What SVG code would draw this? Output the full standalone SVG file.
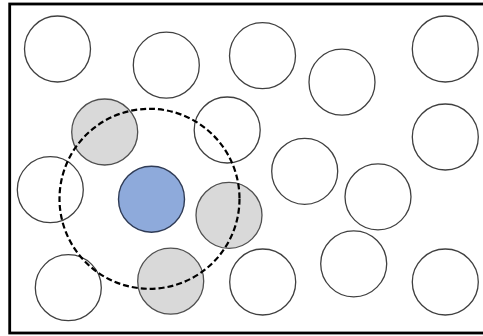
<svg xmlns="http://www.w3.org/2000/svg" width="483" height="336" viewBox="0 0 483 336">
<style>
.c{fill:#fff;stroke:#404040;stroke-width:1.3}
.g{fill:#d9d9d9;stroke:#505050;stroke-width:1.3}
.b{fill:#8eaadb;stroke:#2f3b55;stroke-width:1.4}
.d{fill:none;stroke:#000;stroke-width:2.2;stroke-dasharray:6 3}
</style>
<rect x="0" y="0" width="483" height="336" fill="#fff"/>
<rect x="9.7" y="4" width="480" height="329" fill="#fff" stroke="#000" stroke-width="2.8"/>
<g id="n1"><circle class="c" cx="57.5" cy="49" r="33"/></g>
<g id="n2"><circle class="c" cx="166.3" cy="65.2" r="33"/></g>
<g id="n3"><circle class="c" cx="262.5" cy="55.7" r="33"/></g>
<g id="n4"><circle class="c" cx="342" cy="82.2" r="33"/></g>
<g id="n5"><circle class="c" cx="445.3" cy="49" r="33"/></g>
<g id="n6"><circle class="g" cx="104.7" cy="132" r="33"/></g>
<g id="n7"><circle class="c" cx="227.2" cy="130" r="33"/></g>
<g id="n8"><circle class="c" cx="445.3" cy="137" r="33"/></g>
<g id="n9"><circle class="c" cx="304.7" cy="171.3" r="33"/></g>
<g id="n10"><circle class="c" cx="50.3" cy="189.7" r="33"/></g>
<g id="n11"><circle class="b" cx="151.5" cy="199.2" r="33"/></g>
<g id="n12"><circle class="g" cx="229" cy="215.3" r="33"/></g>
<g id="n13"><circle class="c" cx="378" cy="196.8" r="33"/></g>
<g id="n14"><circle class="c" cx="68.3" cy="287.7" r="33"/></g>
<g id="n15"><circle class="g" cx="170.7" cy="281.2" r="33"/></g>
<g id="n16"><circle class="c" cx="262.7" cy="282" r="33"/></g>
<g id="n17"><circle class="c" cx="353.7" cy="263.8" r="33"/></g>
<g id="n18"><circle class="c" cx="445.3" cy="282" r="33"/></g>
<g id="connectors"><circle class="d" cx="149.5" cy="198.8" r="90"/></g>
</svg>
